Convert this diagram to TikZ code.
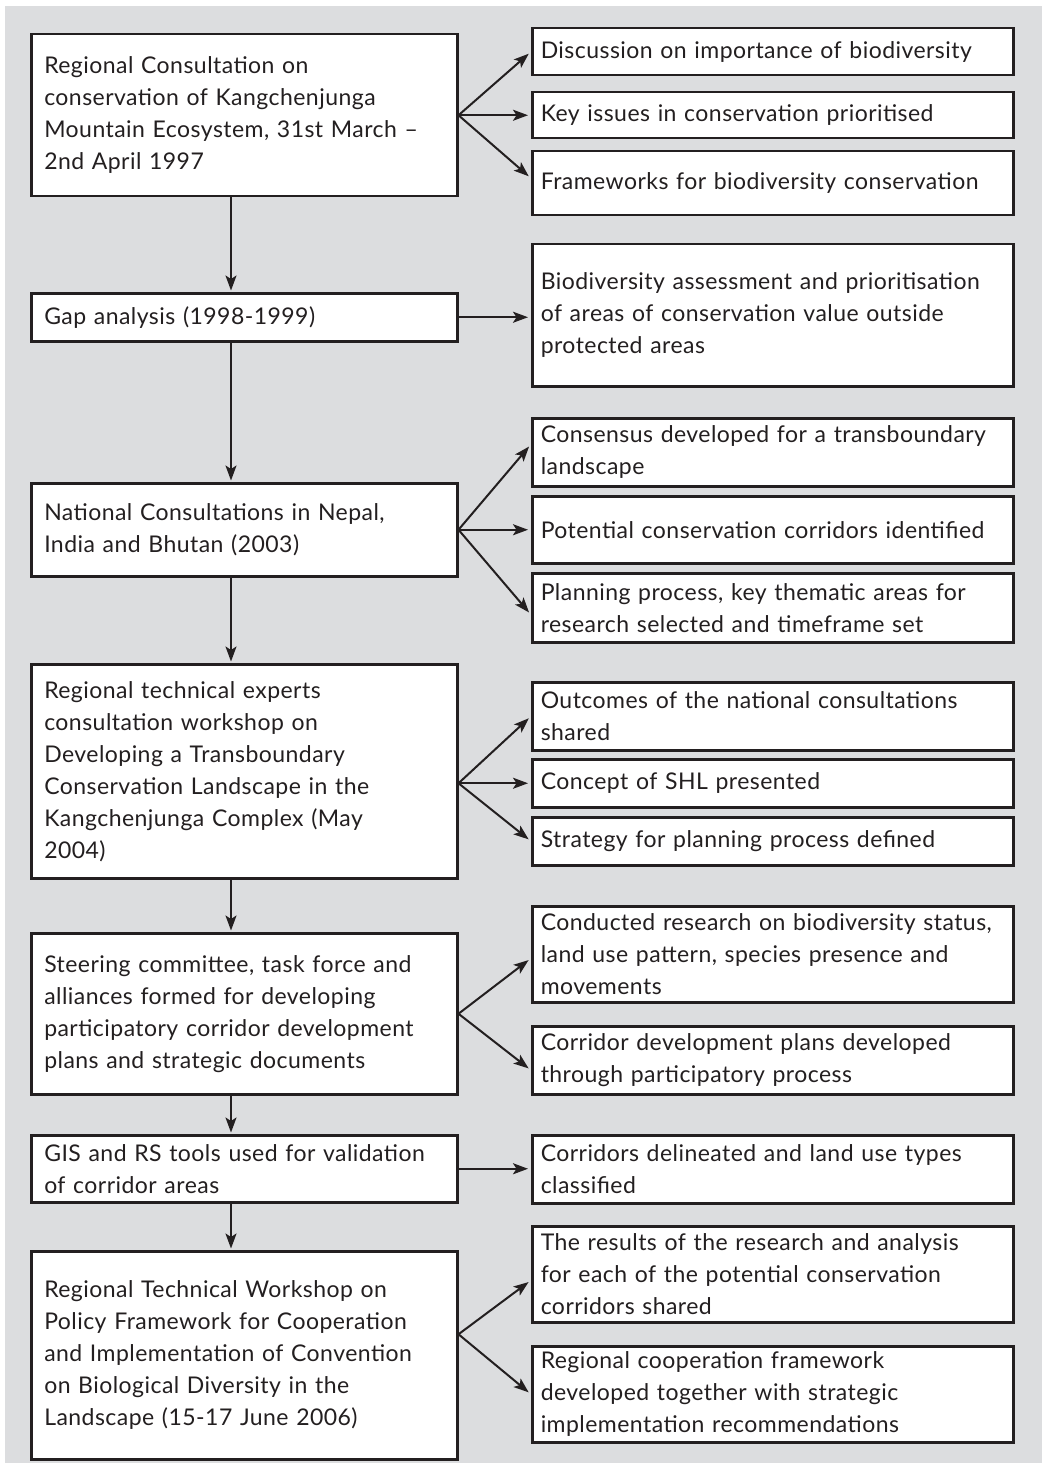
\documentclass[tikz,border=0pt]{standalone}
\usepackage{fontspec}
\setmainfont[LetterSpace=2]{Lato}
\usetikzlibrary{arrows.meta,calc}
\definecolor{bg}{HTML}{DCDDDF}
\definecolor{ink}{HTML}{231F20}
\begin{document}
\begin{tikzpicture}[x=1pt,y=-1pt,
  boxbase/.style={draw=ink, line width=2.5pt, fill=white, text=ink, anchor=north west,
    inner ysep=0pt, align=left, font=\fontsize{23}{32}\selectfont},
  lbox/.style={boxbase, text width=400pt, inner xsep=13pt},
  rbox/.style={boxbase, text width=464pt, inner xsep=8.5pt},
  arr/.style={draw=ink, line width=2pt, shorten >=3pt,
    -{Stealth[length=15pt,width=11pt,inset=3.5pt]}},
  varr/.style={arr, shorten >=1.5pt}]
\useasboundingbox (0,0) rectangle (1042,1463);
\fill[bg] (5,6) rectangle (1042,1463);
\coordinate (vx) at (231,0);

% left column
\node[lbox, minimum height=162pt] (b1) at (30,33) {Regional Consultation on\\conservation of Kangchenjunga\\Mountain Ecosystem, 31st March –\\2nd April 1997};
\node[lbox, minimum height=48pt] (b2) at (30,292) {Gap analysis (1998-1999)};
\node[lbox, minimum height=93pt] (b3) at (30,482) {National Consultations in Nepal,\\India and Bhutan (2003)};
\node[lbox, minimum height=214pt] (b4) at (30,663) {Regional technical experts\\consultation workshop on\\Developing a Transboundary\\Conservation Landscape in the\\Kangchenjunga Complex (May\\2004)};
\node[lbox, minimum height=161pt] (b5) at (30,932) {Steering committee, task force and\\alliances formed for developing\\participatory corridor development\\plans and strategic documents};
\node[lbox, minimum height=67pt] (b6) at (30,1134) {GIS and RS tools used for validation\\of corridor areas};
\node[lbox, minimum height=208pt] (b7) at (30,1250) {Regional Technical Workshop on\\Policy Framework for Cooperation\\and Implementation of Convention\\on Biological Diversity in the\\Landscape (15-17 June 2006)};

% right column
\node[rbox, minimum height=47pt] (r1) at (531,27) {Discussion on importance of biodiversity};
\node[rbox, minimum height=46pt] (r2) at (531,91) {Key issues in conservation prioritised};
\node[rbox, minimum height=64pt] (r3) at (531,150) {Frameworks for biodiversity conservation};
\node[rbox, minimum height=142pt] (r4) at (531,243) {Biodiversity assessment and prioritisation\\of areas of conservation value outside\\protected areas};
\node[rbox, minimum height=68pt] (r5) at (531,417) {Consensus developed for a transboundary\\landscape};
\node[rbox, minimum height=67pt] (r6) at (531,495) {Potential conservation corridors identified};
\node[rbox, minimum height=69pt] (r7) at (531,572) {Planning process, key thematic areas for\\research selected and timeframe set};
\node[rbox, minimum height=68pt] (r8) at (531,681) {Outcomes of the national consultations\\shared};
\node[rbox, minimum height=48pt] (r9) at (531,758) {Concept of SHL presented};
\node[rbox, minimum height=48pt] (r10) at (531,816) {Strategy for planning process defined};
\node[rbox, minimum height=96pt] (r11) at (531,905) {Conducted research on biodiversity status,\\land use pattern, species presence and\\movements};
\node[rbox, minimum height=68pt] (r12) at (531,1025) {Corridor development plans developed\\through participatory process};
\node[rbox, minimum height=68pt] (r13) at (531,1134) {Corridors delineated and land use types\\classified};
\node[rbox, minimum height=96pt] (r14) at (531,1225) {The results of the research and analysis\\for each of the potential conservation\\corridors shared};
\node[rbox, minimum height=96pt] (r15) at (531,1345) {Regional cooperation framework\\developed together with strategic\\implementation recommendations};

% vertical connectors
\draw[varr] (b1.south -| vx) -- (b2.north -| vx);
\draw[varr] (b2.south -| vx) -- (b3.north -| vx);
\draw[varr] (b3.south -| vx) -- (b4.north -| vx);
\draw[varr] (b4.south -| vx) -- (b5.north -| vx);
\draw[varr] (b5.south -| vx) -- (b6.north -| vx);
\draw[varr] (b6.south -| vx) -- (b7.north -| vx);

% fan 1
\draw[arr] (b1.east) -- (r1.west);
\draw[arr] (b1.east) -- (b1.east -| r2.west);
\draw[arr] (b1.east) -- ($(r3.west)+(0,-5)$);
% gap
\draw[arr] (b2.east) -- (b2.east -| r4.west);
% fan 3
\draw[arr] (b3.east) -- ($(r5.west)+(0,-8)$);
\draw[arr] (b3.east) -- (b3.east -| r6.west);
\draw[arr] (b3.east) -- ($(r7.west)+(0,7)$);
% fan 4
\coordinate (o4) at (b4.east |- r9.west);
\draw[arr] (o4) -- (r8.west);
\draw[arr] (o4) -- (r9.west);
\draw[arr] (o4) -- (r10.west);
% fan 5
\draw[arr] (b5.east) -- ($(r11.west)+(0,4)$);
\draw[arr] (b5.east) -- ($(r12.west)+(0,10)$);
% gis
\draw[arr] (b6.east) -- (b6.east -| r13.west);
% fan 7
\coordinate (m7) at ($(r14.west)!0.5!(r15.west)$);
\coordinate (o7) at (b7.east |- m7);
\draw[arr] (o7) -- ($(r14.west)+(0,6)$);
\draw[arr] (o7) -- (r15.west);
\end{tikzpicture}
\end{document}
